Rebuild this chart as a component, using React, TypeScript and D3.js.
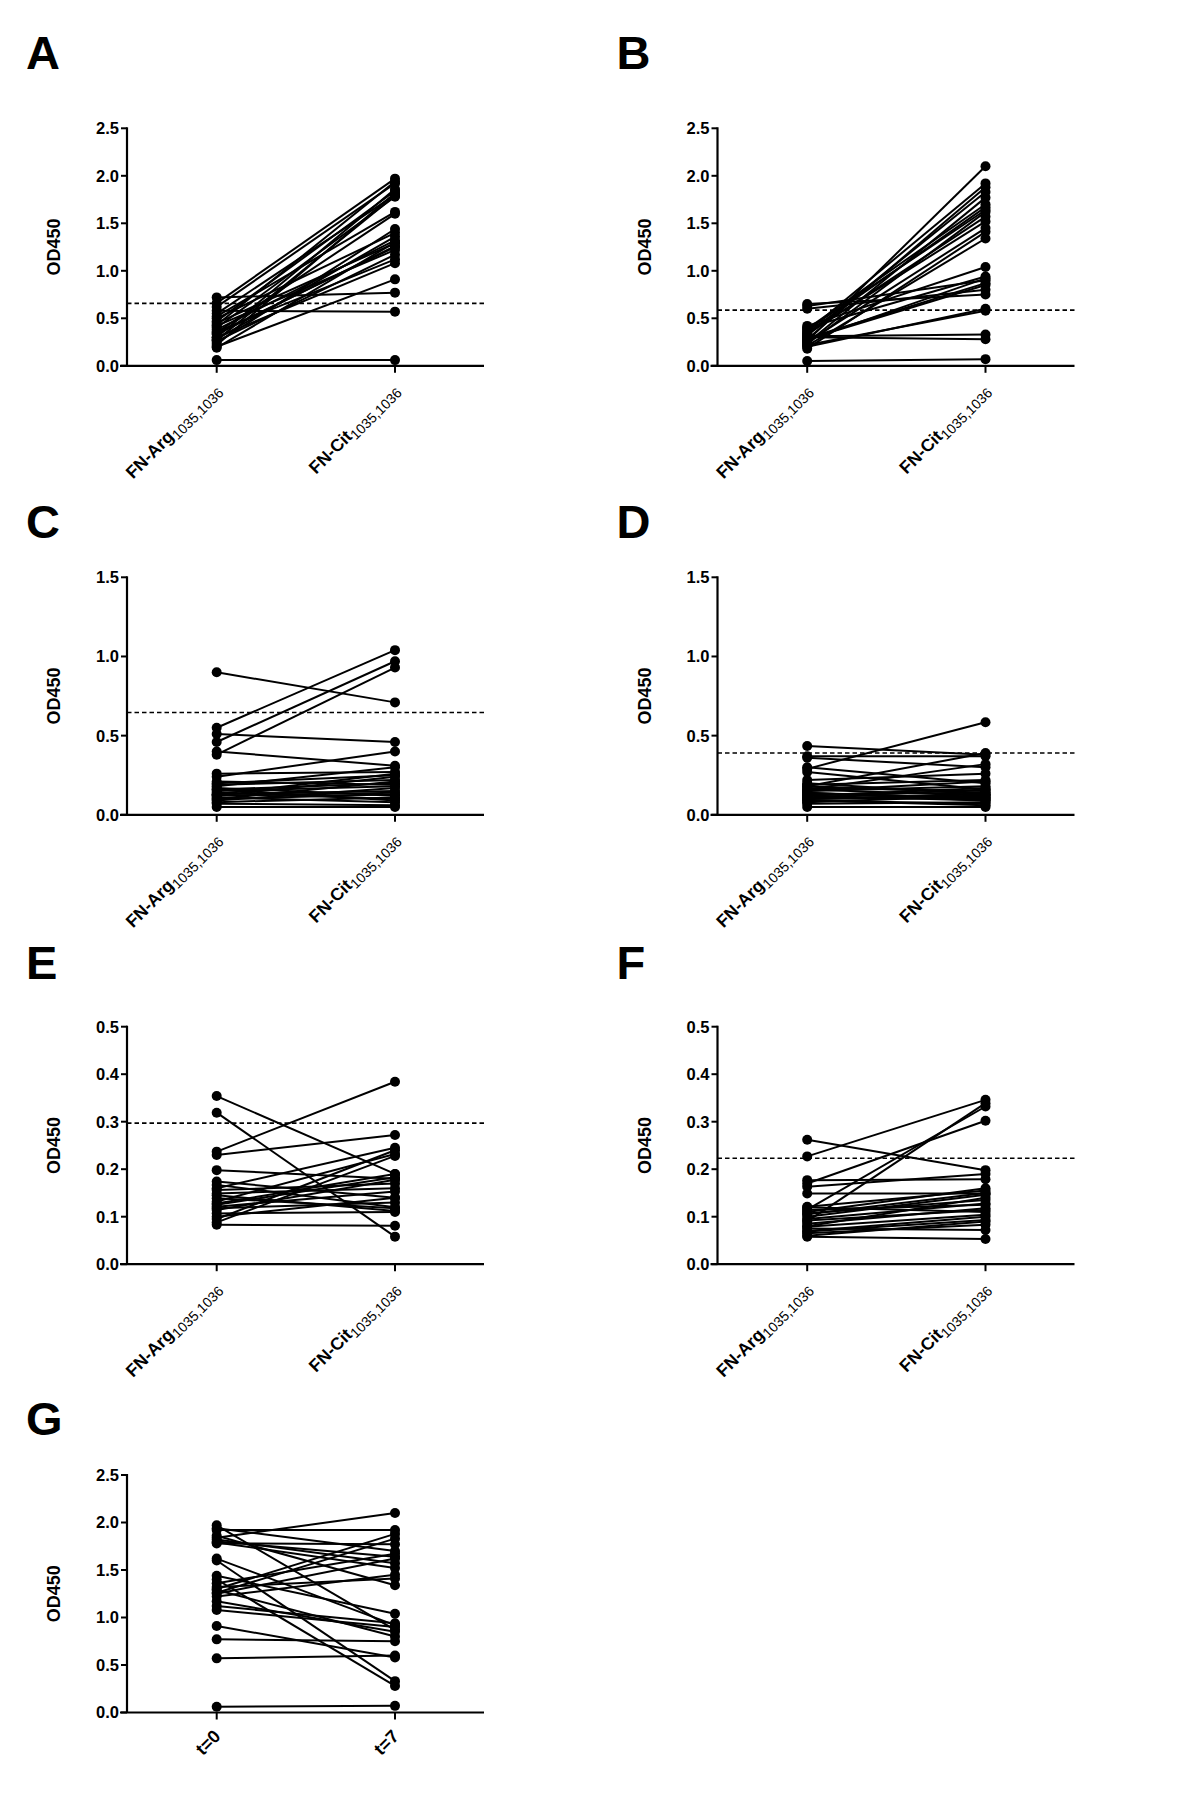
import * as d3 from "d3";

// categories / tick labels
const antigenCats = ["FN-Arg", "FN-Cit"];
const antigenSub = "1035,1036";
const timeCats = ["t=0", "t=7"];

// A: RA patients at t=0 (same patient order as B, G uses aCit vs bCit)
const aArg = [0.06, 0.58, 0.72, 0.2, 0.3, 0.36, 0.26, 0.42, 0.33, 0.45, 0.38, 0.28, 0.5, 0.24, 0.35, 0.52, 0.4, 0.55, 0.22, 0.47, 0.62, 0.66, 0.3, 0.43, 0.34, 0.27, 0.19];
const aCit = [0.06, 0.57, 0.77, 0.91, 1.08, 1.12, 1.17, 1.22, 1.26, 1.29, 1.32, 1.36, 1.4, 1.44, 1.6, 1.62, 1.78, 1.8, 1.82, 1.84, 1.92, 1.97, 1.86, 1.94, 1.25, 1.79, 1.3];
// B: same patients at t=7
const bArg = [0.05, 0.2, 0.65, 0.22, 0.63, 0.4, 0.28, 0.25, 0.32, 0.6, 0.18, 0.35, 0.3, 0.42, 0.31, 0.27, 0.24, 0.38, 0.33, 0.26, 0.36, 0.29, 0.21, 0.39, 0.23, 0.34, 0.28];
const bCit = [0.07, 0.6, 0.75, 0.58, 0.9, 0.94, 0.85, 1.45, 1.83, 0.8, 1.41, 1.67, 0.28, 1.04, 0.33, 0.92, 1.77, 1.64, 1.57, 2.1, 1.92, 0.87, 1.34, 1.7, 1.62, 1.52, 1.88];
// C
const cArg = [0.9, 0.55, 0.46, 0.38, 0.51, 0.4, 0.24, 0.26, 0.05, 0.2, 0.19, 0.18, 0.17, 0.16, 0.15, 0.14, 0.13, 0.12, 0.11, 0.1, 0.09, 0.08, 0.07, 0.21, 0.12, 0.16, 0.13, 0.1];
const cCit = [0.71, 1.04, 0.97, 0.93, 0.46, 0.31, 0.4, 0.27, 0.05, 0.25, 0.22, 0.3, 0.12, 0.2, 0.18, 0.1, 0.15, 0.24, 0.08, 0.13, 0.17, 0.11, 0.06, 0.19, 0.14, 0.09, 0.26, 0.21];
// D
const dArg = [0.435, 0.37, 0.36, 0.29, 0.27, 0.3, 0.18, 0.05, 0.22, 0.2, 0.19, 0.17, 0.16, 0.15, 0.14, 0.13, 0.12, 0.11, 0.1, 0.09, 0.08, 0.07, 0.15, 0.13, 0.12, 0.1, 0.09, 0.16, 0.14, 0.11, 0.18];
const dCit = [0.38, 0.37, 0.3, 0.585, 0.16, 0.2, 0.39, 0.05, 0.26, 0.13, 0.22, 0.15, 0.12, 0.18, 0.1, 0.14, 0.09, 0.16, 0.11, 0.07, 0.12, 0.08, 0.21, 0.11, 0.17, 0.13, 0.06, 0.32, 0.09, 0.1, 0.14];
// E
const eArg = [0.354, 0.319, 0.237, 0.23, 0.198, 0.174, 0.167, 0.16, 0.156, 0.149, 0.139, 0.132, 0.128, 0.121, 0.114, 0.107, 0.1, 0.095, 0.083, 0.088, 0.125, 0.118, 0.145];
const eCit = [0.19, 0.058, 0.384, 0.272, 0.18, 0.14, 0.12, 0.245, 0.17, 0.16, 0.118, 0.232, 0.19, 0.153, 0.178, 0.11, 0.14, 0.24, 0.081, 0.228, 0.183, 0.13, 0.112];
// F
const fArg = [0.262, 0.227, 0.177, 0.17, 0.163, 0.149, 0.121, 0.115, 0.09, 0.114, 0.107, 0.1, 0.092, 0.079, 0.069, 0.058, 0.065, 0.075, 0.085, 0.11, 0.095, 0.06, 0.12, 0.105, 0.08, 0.07];
const fCit = [0.198, 0.346, 0.179, 0.302, 0.19, 0.149, 0.155, 0.332, 0.339, 0.125, 0.135, 0.146, 0.114, 0.104, 0.093, 0.053, 0.083, 0.072, 0.118, 0.16, 0.128, 0.09, 0.11, 0.15, 0.14, 0.1];

// cut-off values (dashed lines), panels A..F
const cutoffs = [0.657, 0.586, 0.646, 0.39, 0.297, 0.223];

const ticksHigh = [0, 0.5, 1.0, 1.5, 2.0, 2.5];
const ticksMid = [0, 0.5, 1.0, 1.5];
const ticksLow = [0, 0.1, 0.2, 0.3, 0.4, 0.5];

const W = 1200;
const H = 1811;
const colX = [127, 717.5];
const rowY = [128.3, 577.3, 1026.7, 1475];
const letterBase = [69, 538, 979, 1435];
const plotH = 237.5;
const font = "'Liberation Sans', Arial, sans-serif";

type PanelProps = {
  letter: string;
  col: number;
  row: number;
  left: number[];
  right: number[];
  ticks: number[];
  cutoff?: number;
  cats: string[];
  sub?: string;
};

function Panel({ letter, col, row, left, right, ticks, cutoff, cats, sub }: PanelProps) {
  const x0 = colX[col];
  const y0 = rowY[row];
  const yMax = ticks[ticks.length - 1];
  const y = d3.scaleLinear().domain([0, yMax]).range([y0 + plotH, y0]);
  const x = d3.scalePoint<string>().domain(cats).range([x0 + 89.7, x0 + 268]);
  const xEnd = x0 + 357;
  const base = y0 + plotH;
  const xl = x(cats[0])!;
  const xr = x(cats[1])!;
  const fmt = d3.format(".1f");
  const line = d3.line<[number, number]>();

  return (
    <g>
      <text x={x0 - 101} y={letterBase[row]} fontFamily={font} fontWeight="bold" fontSize={47}>
        {letter}
      </text>
      <text
        transform={`translate(${x0 - 67},${y0 + plotH / 2}) rotate(-90)`}
        textAnchor="middle"
        fontFamily={font}
        fontWeight="bold"
        fontSize={18}
      >
        OD450
      </text>
      {/* pair lines */}
      {left.map((v, i) => (
        <path
          key={"l" + i}
          d={line([[xl, y(v)], [xr, y(right[i])]])!}
          stroke="#000"
          strokeWidth={2}
          fill="none"
        />
      ))}
      {cutoff !== undefined && (
        <line x1={x0} x2={xEnd} y1={y(cutoff)} y2={y(cutoff)} stroke="#000" strokeWidth={1.6} strokeDasharray="4.5,3" />
      )}
      {left.map((v, i) => (
        <circle key={"a" + i} cx={xl} cy={y(v)} r={5} fill="#000" />
      ))}
      {right.map((v, i) => (
        <circle key={"b" + i} cx={xr} cy={y(v)} r={5} fill="#000" />
      ))}
      {/* axes */}
      <line x1={x0} x2={x0} y1={y0 - 1} y2={base} stroke="#000" strokeWidth={2.2} />
      <line x1={x0 - 7} x2={xEnd} y1={base} y2={base} stroke="#000" strokeWidth={2.2} />
      {ticks.map((t) => (
        <g key={"t" + t}>
          <line x1={x0 - 6} x2={x0} y1={y(t)} y2={y(t)} stroke="#000" strokeWidth={2} />
          <text
            x={x0 - 8}
            y={y(t)}
            dy="0.36em"
            textAnchor="end"
            fontFamily={font}
            fontWeight="bold"
            fontSize={16.5}
          >
            {fmt(t)}
          </text>
        </g>
      ))}
      {cats.map((c) => (
        <g key={c}>
          <line x1={x(c)} x2={x(c)} y1={base} y2={base + 7} stroke="#000" strokeWidth={2} />
          <text
            transform={`translate(${x(c)! + 5},${base + 25}) rotate(-45)`}
            textAnchor="end"
            fontFamily={font}
            fontWeight="bold"
            fontSize={sub ? 17.5 : 18}
          >
            {c}
            {sub && (
              <tspan fontSize={14} fontWeight="normal" dy={4}>
                {sub}
              </tspan>
            )}
          </text>
        </g>
      ))}
    </g>
  );
}

export default function App() {
  return (
    <svg
      width={W}
      height={H}
      viewBox={`0 0 ${W} ${H}`}
      style={{ position: "absolute", left: 0, top: 0, background: "#fff" }}
    >
      <rect width={W} height={H} fill="#fff" />
      <Panel letter="A" col={0} row={0} left={aArg} right={aCit} ticks={ticksHigh} cutoff={cutoffs[0]} cats={antigenCats} sub={antigenSub} />
      <Panel letter="B" col={1} row={0} left={bArg} right={bCit} ticks={ticksHigh} cutoff={cutoffs[1]} cats={antigenCats} sub={antigenSub} />
      <Panel letter="C" col={0} row={1} left={cArg} right={cCit} ticks={ticksMid} cutoff={cutoffs[2]} cats={antigenCats} sub={antigenSub} />
      <Panel letter="D" col={1} row={1} left={dArg} right={dCit} ticks={ticksMid} cutoff={cutoffs[3]} cats={antigenCats} sub={antigenSub} />
      <Panel letter="E" col={0} row={2} left={eArg} right={eCit} ticks={ticksLow} cutoff={cutoffs[4]} cats={antigenCats} sub={antigenSub} />
      <Panel letter="F" col={1} row={2} left={fArg} right={fCit} ticks={ticksLow} cutoff={cutoffs[5]} cats={antigenCats} sub={antigenSub} />
      <Panel letter="G" col={0} row={3} left={aCit} right={bCit} ticks={ticksHigh} cats={timeCats} />
    </svg>
  );
}
